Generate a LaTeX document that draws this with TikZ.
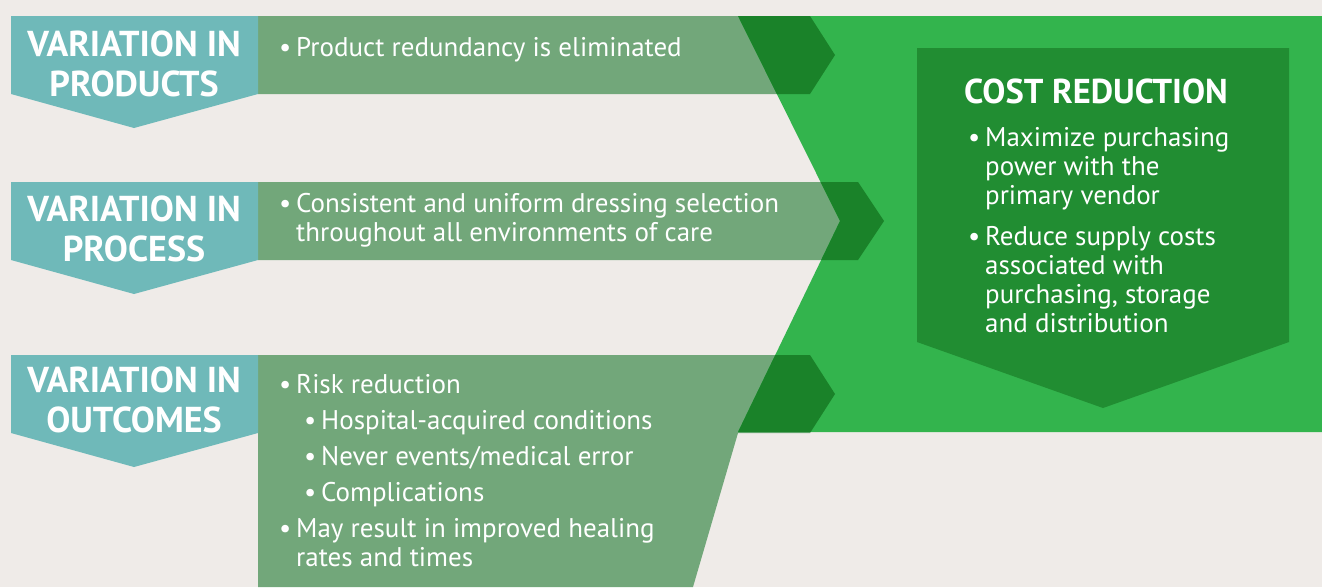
\documentclass[tikz,border=0pt]{standalone}
\usepackage{fontspec}
\setmainfont{PT Sans}
\usetikzlibrary{positioning}
\definecolor{bgcol}{HTML}{EFEBE8}
\definecolor{tealc}{HTML}{6FB9B9}
\definecolor{lightg}{HTML}{72A77A}
\definecolor{brightg}{HTML}{33B44D}
\definecolor{overg}{HTML}{1A8229}
\definecolor{innerg}{HTML}{218D32}
\newcommand\bl{\makebox[17pt][l]{\textbullet}}
\newcommand\ind{\hspace*{17pt}}

\begin{document}
\begin{tikzpicture}[
        x=1pt, y=-1pt,
        head/.style = {font=\bfseries\fontsize{36}{40}\selectfont, text=white, align=center, inner sep=0pt},
        body/.style = {font=\fontsize{27}{29}\selectfont, text=white, align=left, inner sep=0pt},
        title/.style = {font=\bfseries\fontsize{34.5}{38}\selectfont, text=white, inner sep=0pt},
    ]
        \useasboundingbox (0,0) rectangle (1322,587);
        \fill[bgcol] (0,0) rectangle (1322,587);

        % bands behind the green area
        \fill[lightg] (258,16) -- (810,16) -- (835,55) -- (810,94) -- (258,94) -- cycle;
        \fill[lightg] (258,182) -- (858,182) -- (884,221) -- (858,260) -- (258,260) -- cycle;
        \fill[lightg] (258,355) -- (810,355) -- (835,394) -- (810,433) -- (738,433) -- (693,587) -- (258,587) -- cycle;

        % green area
        \fill[brightg] (738,16) -- (1322,16) -- (1322,432) -- (738,432) -- (840,221) -- cycle;
        \begin{scope}
            \clip (738,16) -- (1322,16) -- (1322,432) -- (738,432) -- (840,221) -- cycle;
            \fill[overg] (258,16) -- (810,16) -- (835,55) -- (810,94) -- (258,94) -- cycle;
            \fill[overg] (258,182) -- (858,182) -- (884,221) -- (858,260) -- (258,260) -- cycle;
            \fill[overg] (258,355) -- (810,355) -- (835,394) -- (810,433) -- (258,433) -- cycle;
        \end{scope}
        \fill[innerg] (917,48) -- (1289,48) -- (1289,342) -- (1103,408) -- (917,342) -- cycle;

        % teal labels
        \foreach \t in {16,182,355}{
            \fill[tealc] (11,\t) -- (258,\t) -- ++(0,78) -- (134,\t+112) -- (11,\t+78) -- cycle;
        }

        % base anchor = last line
        \node[head, anchor=base] (hprod) at (134,96) {VARIATION IN\\PRODUCTS};
        \node[head, anchor=base] (hproc) at (134,261) {VARIATION IN\\PROCESS};
        \node[head, anchor=base] (hout) at (134,432) {VARIATION IN\\OUTCOMES};

        \node[body, anchor=base west] (bprod) at (279,56) {\bl Product redundancy is eliminated};
        \node[body, anchor=base west] (bproc) at (279,241) {\bl Consistent and uniform dressing selection\\
            \ind throughout all environments of care};
        \node[body, anchor=base west] (bout) at (279,566) {\bl Risk reduction\\[7pt]
            \hspace*{25pt}\bl Hospital-acquired conditions\\[7pt]
            \hspace*{25pt}\bl Never events/medical error\\[7pt]
            \hspace*{25pt}\bl Complications\\[7pt]
            \bl May result in improved healing\\
            \ind rates and times};

        \node[title, anchor=base west] (tcost) at (964,103) {COST REDUCTION};
        \node[body, anchor=base west] (bcost) at (968,332) {\bl Maximize purchasing\\
            \ind power with the\\
            \ind primary vendor\\[12pt]
            \bl Reduce supply costs\\
            \ind associated with\\
            \ind purchasing, storage\\
            \ind and distribution};
    \end{tikzpicture}
\end{document}
